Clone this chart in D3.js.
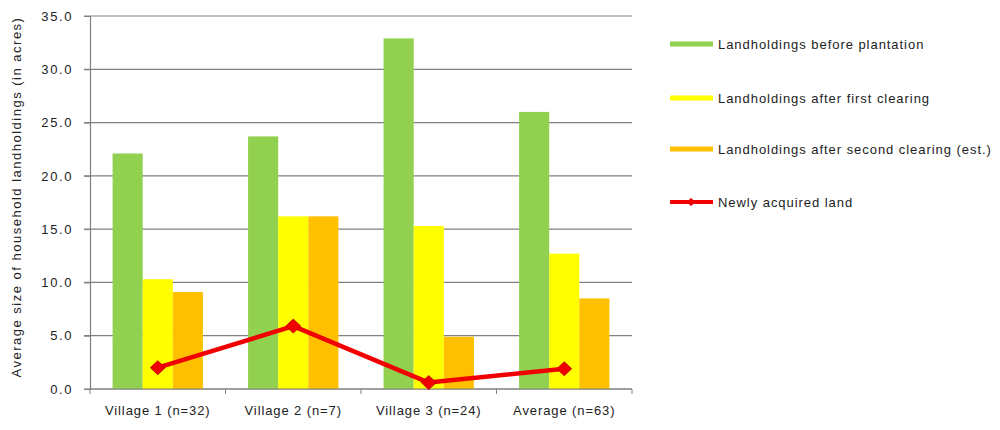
<!DOCTYPE html>
<html>
<head>
<meta charset="utf-8">
<script src="https://cdn.jsdelivr.net/npm/d3@7"></script>
<style>
  body { margin: 0; background: #fff; }
  text { font-family: "Liberation Sans", Arial, sans-serif; fill: #222; }
</style>
</head>
<body>
<script>
// chart data
const categories = ["Village 1 (n=32)", "Village 2 (n=7)", "Village 3 (n=24)", "Average (n=63)"]
const seriesNames = ["Landholdings before plantation", "Landholdings after first clearing", "Landholdings after second clearing (est.)"]
const beforePlantation = [22.1, 23.7, 32.9, 26.0]
const afterFirst = [10.3, 16.2, 15.3, 12.7]
const afterSecond = [9.1, 16.2, 4.9, 8.5]
const newlyAcquired = [2.0, 5.9, 0.6, 1.9]
const lineName = "Newly acquired land"
const yTicks = [0, 5, 10, 15, 20, 25, 30, 35]

const barColors = ["#92d050", "#ffff00", "#ffc000"]
const lineColor = "#f00000"

const W = 1000, H = 430
const plot = { left: 90, right: 632, top: 16, bottom: 389 }

const svg = d3.select("body").append("svg")
    .attr("width", W)
    .attr("height", H)

const x = d3.scaleBand()
    .domain(categories)
    .range([plot.left, plot.right])
    .paddingInner(0)
    .paddingOuter(0)

// Excel style gap width 150%
const inner = d3.scaleBand()
    .domain([0, 1, 2])
    .range([0, x.bandwidth()])
    .paddingInner(0)
    .paddingOuter(0.75)

const y = d3.scaleLinear()
    .domain([0, 35])
    .range([plot.bottom, plot.top])

// gridlines
svg.append("g")
    .selectAll("line")
    .data(yTicks)
    .enter()
    .append("line")
        .attr("x1", plot.left - 6)
        .attr("x2", plot.right)
        .attr("y1", d => y(d))
        .attr("y2", d => y(d))
        .attr("stroke", "#808080")
        .attr("stroke-width", 1.2)

// bars
const barSeries = [beforePlantation, afterFirst, afterSecond]
barSeries.forEach((vals, si) => {
    svg.append("g")
        .selectAll("rect")
        .data(vals)
        .enter()
        .append("rect")
            .attr("x", (d, i) => x(categories[i]) + inner(si))
            .attr("y", d => y(d))
            .attr("width", inner.bandwidth())
            .attr("height", d => y(0) - y(d))
            .attr("fill", barColors[si])
})

// axes
const yAxis = d3.axisLeft(y)
    .tickValues(yTicks)
    .tickFormat(d3.format(".1f"))
    .tickSize(6)
    .tickPadding(11)

const gy = svg.append("g")
    .attr("transform", "translate(" + plot.left + ",0)")
    .call(yAxis)
gy.select(".domain").attr("stroke", "#808080").attr("stroke-width", 1.2)
gy.selectAll(".tick line").attr("stroke", "#808080")
gy.selectAll(".tick text")
    .style("font-size", "13px")
    .style("font-family", "Liberation Sans, Arial, sans-serif")
    .style("letter-spacing", "1.6px")
    .attr("fill", "#333")

// x axis line and boundary ticks
svg.append("line")
    .attr("x1", plot.left).attr("x2", plot.right)
    .attr("y1", y(0)).attr("y2", y(0))
    .attr("stroke", "#808080")
    .attr("stroke-width", 1.2)

const bounds = categories.map(c => x(c)).concat([plot.right])
svg.append("g")
    .selectAll("line")
    .data(bounds)
    .enter()
    .append("line")
        .attr("x1", d => d).attr("x2", d => d)
        .attr("y1", y(0)).attr("y2", y(0) + 5)
        .attr("stroke", "#808080")

svg.append("g")
    .selectAll("text")
    .data(categories)
    .enter()
    .append("text")
        .attr("x", d => x(d) + x.bandwidth() / 2)
        .attr("y", 415)
        .attr("text-anchor", "middle")
        .style("font-size", "13px")
        .style("letter-spacing", "0.9px")
        .text(d => d)

// y title
svg.append("text")
    .attr("transform", "translate(21,197) rotate(-90)")
    .attr("text-anchor", "middle")
    .style("font-size", "13px")
    .style("letter-spacing", "1.5px")
    .text("Average size of household landholdings (in acres)")

// line series
const line = d3.line()
    .x((d, i) => x(categories[i]) + x.bandwidth() / 2)
    .y(d => y(d))

svg.append("path")
    .attr("d", line(newlyAcquired))
    .attr("fill", "none")
    .attr("stroke", lineColor)
    .attr("stroke-width", 4.5)
    .attr("stroke-linejoin", "round")

// wide diamond marker
const diamondPath = (w, h) => "M" + (-w / 2) + ",0L0," + (-h / 2) + "L" + (w / 2) + ",0L0," + (h / 2) + "Z"
svg.append("g")
    .selectAll("path")
    .data(newlyAcquired)
    .enter()
    .append("path")
        .attr("transform", (d, i) => "translate(" + (x(categories[i]) + x.bandwidth() / 2) + "," + y(d) + ")")
        .attr("d", diamondPath(15, 14))
        .attr("fill", lineColor)
        .attr("stroke", "#c00000")
        .attr("stroke-width", 0.8)

// legend
const legendY = [44, 98, 149, 202]
const legendItems = seriesNames.map((n, i) => ({ name: n, color: barColors[i], line: false }))
    .concat([{ name: lineName, color: lineColor, line: true }])

const lg = svg.append("g")
    .selectAll("g")
    .data(legendItems)
    .enter()
    .append("g")
        .attr("transform", (d, i) => "translate(670," + legendY[i] + ")")

lg.append("line")
    .attr("x1", 0).attr("x2", 43)
    .attr("y1", 0).attr("y2", 0)
    .attr("stroke", d => d.color)
    .attr("stroke-width", d => d.line ? 4 : 5)

lg.filter(d => d.line)
    .append("path")
    .attr("transform", "translate(21,0)")
    .attr("d", diamondPath(9, 8))
    .attr("fill", lineColor)

lg.append("text")
    .attr("x", 48)
    .attr("y", 5)
    .style("font-size", "13px")
    .style("letter-spacing", "0.95px")
    .text(d => d.name)
</script>
</body>
</html>
